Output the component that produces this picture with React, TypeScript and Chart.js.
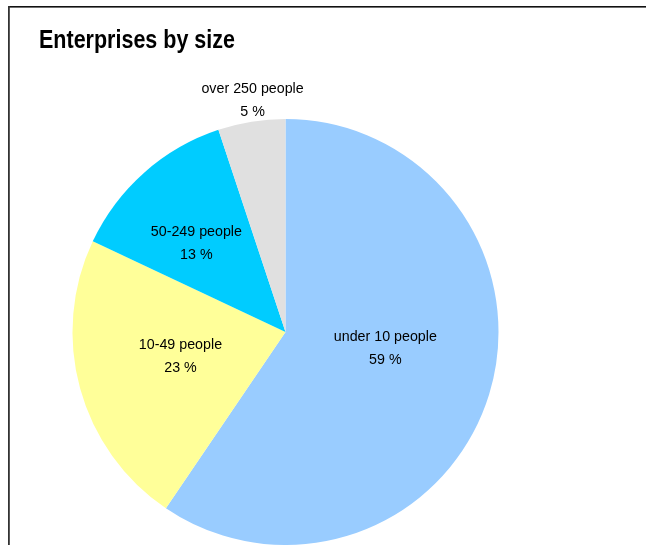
import React, { useEffect, useRef } from "react";
import { Chart, registerables } from "chart.js";

Chart.register(...registerables);

const TITLE = "Enterprises by size";
const categories = ["under 10 people", "10-49 people", "50-249 people", "over 250 people"];
const shares = [59.49, 22.51, 12.9, 5.1];
const colors = ["#99CCFF", "#FFFF99", "#00CCFF", "#E0E0E0"];
const labelRadius = [0.475, 0.506, 0.59, 1.1];
const labelAngleShift = [-7.8, 2.4, -3.6, 1.1];

const overlayPlugin = {
  id: "overlay",
  afterDraw(chart: any) {
    const ctx = chart.ctx as CanvasRenderingContext2D;
    ctx.save();
    // frame
    ctx.fillStyle = "#111";
    ctx.fillRect(8, 6, 638, 1.6);
    ctx.fillStyle = "#333";
    ctx.fillRect(8, 6, 1.8, 545);
    // title
    ctx.save();
    ctx.translate(39, 48);
    ctx.scale(0.86, 1);
    ctx.font = "bold 25px 'Liberation Sans', Arial, sans-serif";
    ctx.fillStyle = "#000";
    ctx.textAlign = "left";
    ctx.textBaseline = "alphabetic";
    ctx.fillText(TITLE, 0, 0);
    ctx.restore();
    // data labels
    const meta = chart.getDatasetMeta(0);
    const data = chart.data.datasets[0].data as number[];
    const total = data.reduce((a, b) => a + b, 0);
    meta.data.forEach((arc: any, i: number) => {
      const p = arc.getProps(["x", "y", "startAngle", "endAngle", "outerRadius"], true);
      const mid = (p.startAngle + p.endAngle) / 2 + (labelAngleShift[i] * Math.PI) / 180;
      const r = p.outerRadius * labelRadius[i];
      const cx = p.x + Math.cos(mid) * r;
      const cy = p.y + Math.sin(mid) * r;
      const lines = [chart.data.labels[i], Math.round((data[i] / total) * 100) + " %"];
      ctx.font = "15.5px 'Liberation Sans', Arial, sans-serif";
      ctx.fillStyle = "#000";
      ctx.textAlign = "center";
      ctx.textBaseline = "middle";
      lines.forEach((t, k) => {
        ctx.save();
        ctx.translate(cx, cy + (k - 0.5) * 23.5);
        ctx.scale(0.92, 1);
        ctx.fillText(String(t), 0, 0);
        ctx.restore();
      });
    });
    ctx.restore();
  },
};

export default function App() {
  const ref = useRef<HTMLCanvasElement | null>(null);
  useEffect(() => {
    if (!ref.current) return;
    const chart = new Chart(ref.current, {
      type: "pie",
      data: {
        labels: categories,
        datasets: [
          {
            data: shares,
            backgroundColor: colors,
            borderWidth: 0,
          },
        ],
      },
      options: {
        animation: false,
        responsive: false,
        events: [],
        layout: { padding: { left: 72, right: 147, top: 119, bottom: 0 } },
        plugins: {
          legend: { display: false },
          tooltip: { enabled: false },
          title: { display: false },
        },
      },
      plugins: [overlayPlugin],
    });
    return () => chart.destroy();
  }, []);
  return (
    <div style={{ position: "fixed", left: 0, top: 0, width: 646, height: 545, background: "#fff" }}>
      <canvas ref={ref} width={646} height={545} style={{ display: "block" }} />
    </div>
  );
}
